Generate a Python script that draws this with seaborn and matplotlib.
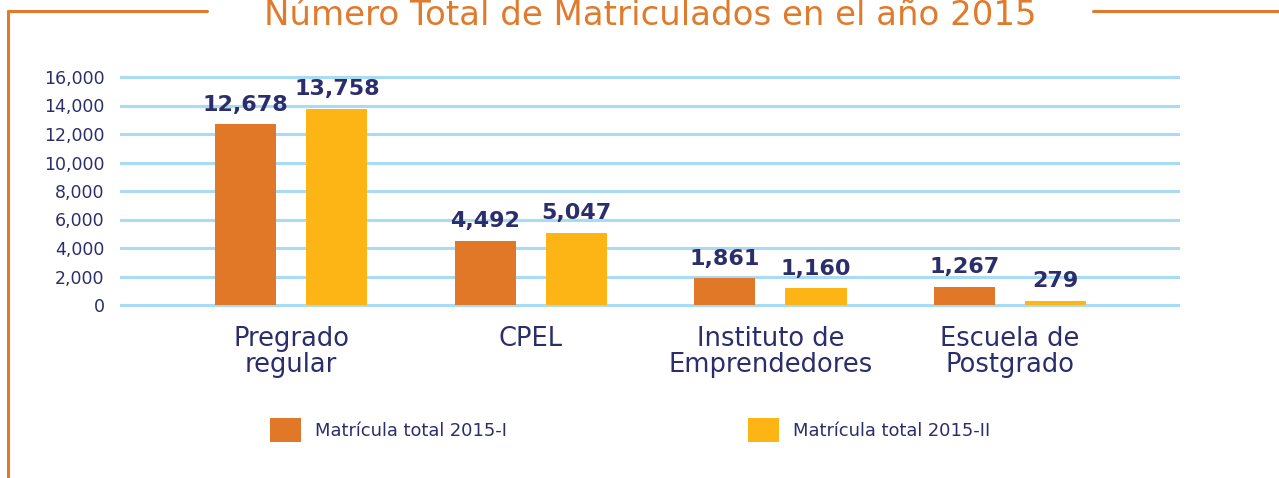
import matplotlib
matplotlib.use("Agg")
import matplotlib.pyplot as plt
from matplotlib.lines import Line2D
import seaborn as sns
import pandas as pd

# data
programas = ["Pregrado\nregular", "CPEL", "Instituto de\nEmprendedores", "Escuela de\nPostgrado"]
matricula_2015_1 = [12678, 4492, 1861, 1267]
matricula_2015_2 = [13758, 5047, 1160, 279]
periodos = ["Matrícula total 2015-I", "Matrícula total 2015-II"]
y_ticks = [0, 2000, 4000, 6000, 8000, 10000, 12000, 14000, 16000]

NAVY = "#2b2e6b"
ORANGE = "#e07828"
YELLOW = "#fdb515"
GRID = "#a9dcf4"
FRAME = "#e07b2e"

df = pd.DataFrame({
    "programa": programas * 2,
    "periodo": [periodos[0]] * len(programas) + [periodos[1]] * len(programas),
    "matricula": matricula_2015_1 + matricula_2015_2,
})

sns.set_style("white")
plt.rcParams["font.family"] = ["DejaVu Sans"]

W, H = 1279, 478
fig = plt.figure(figsize=(W / 100, H / 100), dpi=100)
# axes placed so that 0 -> y=305px and 16000 -> y=77px (with small margin)
pad_px = 3
ax = fig.add_axes([120 / W, 1 - (305 + pad_px) / H, (1180 - 120) / W, (228 + 2 * pad_px) / H])

sns.barplot(data=df, x="programa", y="matricula", hue="periodo",
            palette=[ORANGE, YELLOW], width=0.762, gap=0.33,
            saturation=1, linewidth=0, ax=ax, zorder=3)

ax.set_ylim(-pad_px / 228 * 16000, 16000 + pad_px / 228 * 16000)
ax.set_xlim(-0.715, 3.71)
ax.set_yticks(y_ticks)
ax.set_yticklabels([f"{v:,}" for v in y_ticks])
ax.yaxis.grid(True, color=GRID, linewidth=2.2, zorder=0)
ax.set_axisbelow(True)
for s in ax.spines.values():
    s.set_visible(False)
ax.tick_params(axis="y", length=0, pad=11, labelsize=12.5, labelcolor=NAVY)
ax.tick_params(axis="x", length=0, pad=13, labelsize=18.5, labelcolor=NAVY)
for t in ax.get_xticklabels():
    t.set_linespacing(1.0)
ax.set_xlabel("")
ax.set_ylabel("")

for cont in ax.containers:
    ax.bar_label(cont, fmt="{:,.0f}", padding=7, fontsize=16,
                 fontweight="bold", color=NAVY)

handles, labels = ax.get_legend_handles_labels()
ax.legend_.remove()
leg_fs = 12.9
fs_px = leg_fs * 100 / 72
fig.legend(handles, labels, ncol=2, loc="center left",
           bbox_to_anchor=(270 / W, 1 - 430 / H), frameon=False,
           fontsize=leg_fs, labelcolor=NAVY, borderpad=0, borderaxespad=0,
           handlelength=31 / fs_px, handleheight=31 / fs_px,
           handletextpad=14 / fs_px, columnspacing=241 / fs_px)

# title and orange frame
fig.text(650 / W, 1 - 25 / H, "Número Total de Matriculados en el año 2015",
         ha="center", va="baseline", fontsize=24.5, color=FRAME)
lw = 2.2
fig.add_artist(Line2D([8 / W, 207 / W], [1 - 11 / H, 1 - 11 / H], color=FRAME, lw=lw))
fig.add_artist(Line2D([1093 / W, 1], [1 - 11 / H, 1 - 11 / H], color=FRAME, lw=lw))
fig.add_artist(Line2D([8 / W, 8 / W], [1 - 11 / H, 0], color=FRAME, lw=lw))

fig.savefig("out.png", dpi=100)
